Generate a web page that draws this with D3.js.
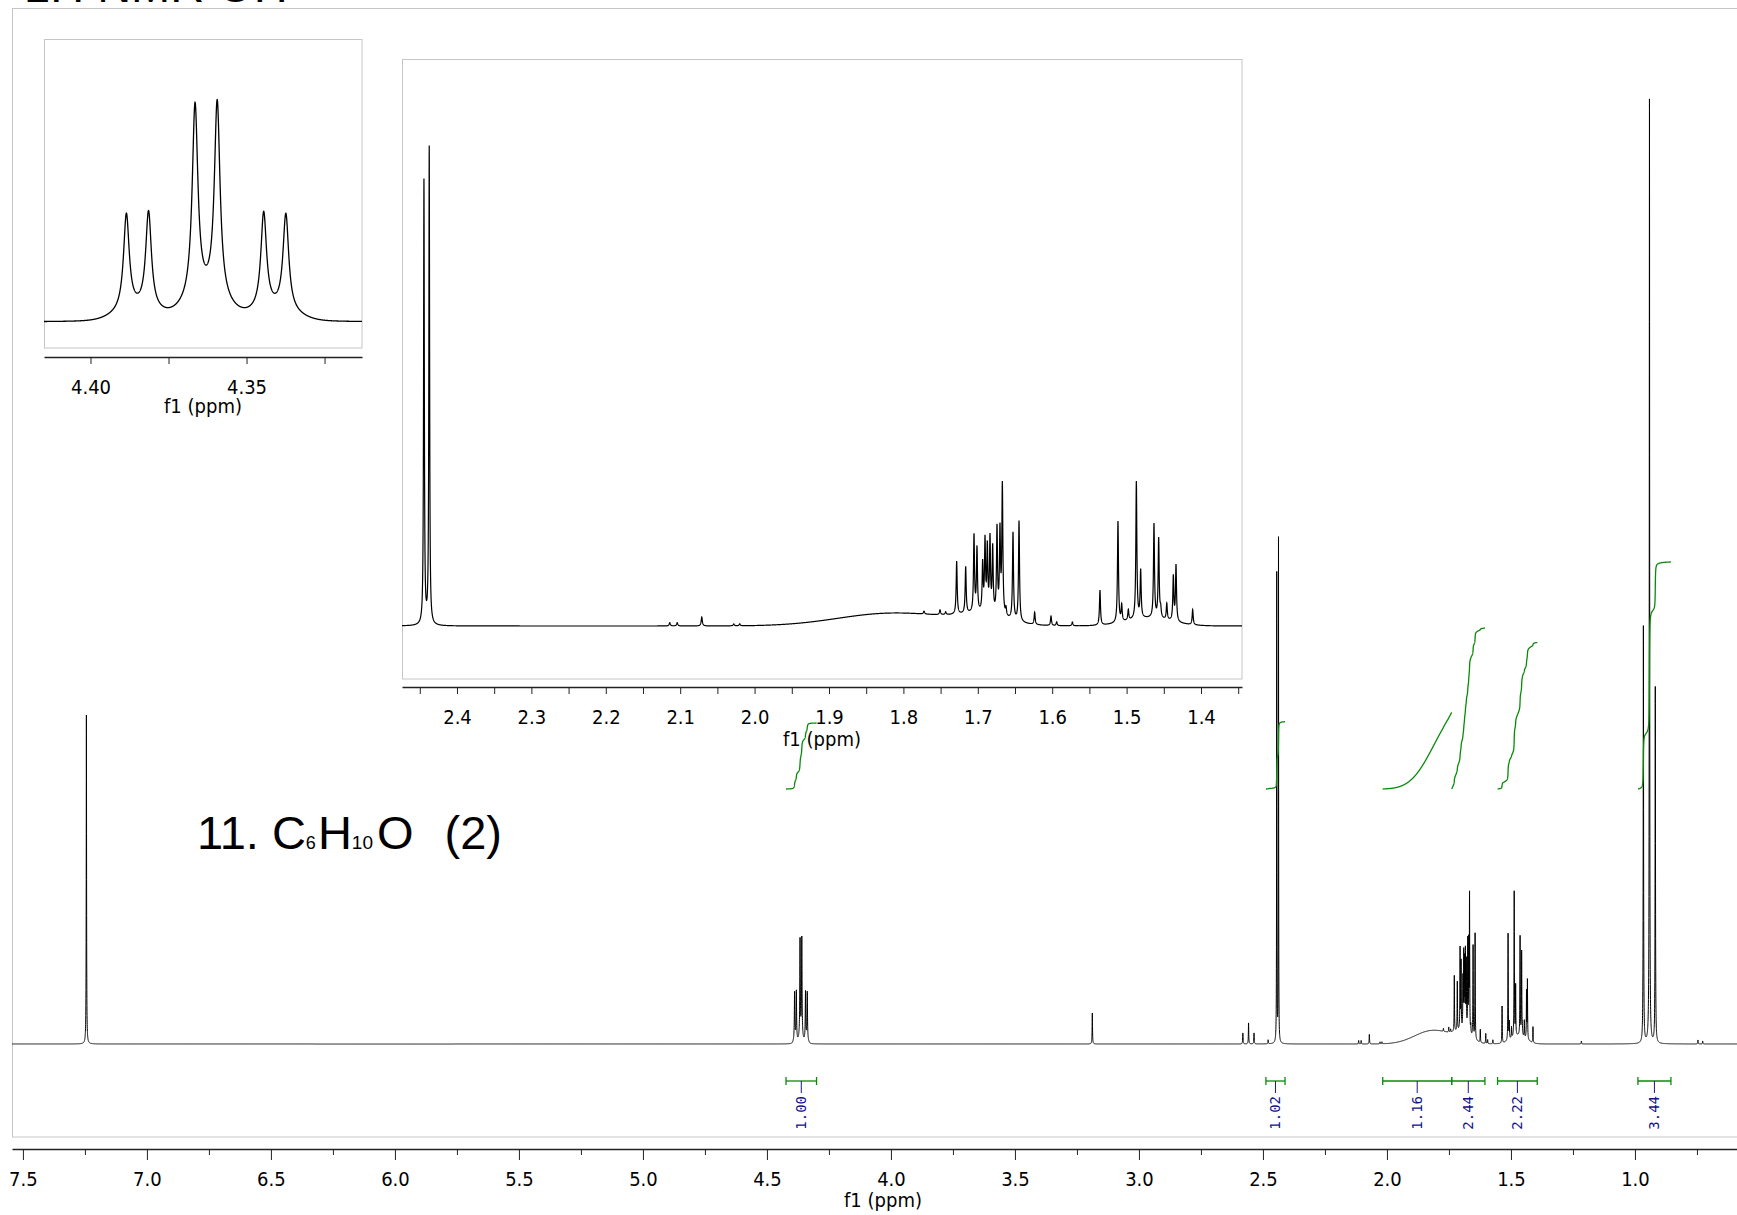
<!DOCTYPE html>
<html>
<head>
<meta charset="utf-8">
<title>1H NMR – C6H10O</title>
<script src="https://cdn.jsdelivr.net/npm/d3@7"></script>
<style>
  html, body { margin: 0; padding: 0; background: #fff; }
  svg { display: block; }
  .tick-label { font-family: "DejaVu Sans Condensed", "DejaVu Sans", sans-serif; font-stretch: condensed; font-size: 20px; fill: #000; }
</style>
</head>
<body>
<svg id="chart" width="1737" height="1215"></svg>
<script>
// ---------------- peak tables: [shift (ppm), height] ----------------
const solventLines = [[7.244, 329]];
const methineLines = [[4.3885, 46.8], [4.3814, 47.6], [4.3665, 94.7], [4.3594, 96.0], [4.3445, 47.2], [4.3374, 46.8]];
const alkyneLines  = [[2.4444, 469], [2.4373, 504]];
const ch2aLines = [
  [1.7284, 56], [1.7163, 49], [1.7051, 81], [1.7011, 67], [1.6935, 50], [1.6903, 74],
  [1.6872, 67], [1.6836, 77], [1.6800, 68], [1.6742, 90], [1.6702, 87], [1.6670, 137],
  [1.6621, 8], [1.6527, 92], [1.6446, 106], [1.6236, 13], [1.6016, 10], [1.5940, 4], [1.5729, 4]
];
const ch2bLines = [
  [1.5358, 37], [1.5116, 107], [1.5066, 17], [1.4977, 11], [1.4869, 145], [1.4811, 50],
  [1.4632, 99], [1.4569, 84], [1.4542, 9], [1.4460, 17], [1.4372, 47], [1.4336, 59], [1.4112, 16]
];
const methylLines = [[0.9660, 417], [0.9415, 944], [0.9180, 356]];
const minorLines = [
  [3.188, 31], [2.581, 11], [2.558, 21], [2.536, 11], [2.479, 4], [2.114, 3.5], [2.104, 3.5],
  [2.071, 9.5], [2.028, 2], [2.020, 2], [1.7723, 3], [1.7508, 5], [1.7432, 3], [1.216, 3],
  [0.746, 4], [0.727, 3]
];
// broad bands: [centre (ppm), sigma (ppm), height]  – OH hump and multiplet envelopes
const broadBands = [[1.82, 0.07, 13], [1.73, 0.05, 3], [1.69, 0.03, 8], [1.47, 0.03, 8]];

// integrals
const integralFrom   = [4.423, 2.488, 2.017, 1.739, 1.554, 0.988];
const integralTo     = [4.300, 2.411, 1.739, 1.605, 1.394, 0.855];
const integralValues = [1.00, 1.02, 1.16, 2.44, 2.22, 3.44];

// axis ticks
const mainTicks   = [7.5, 7.0, 6.5, 6.0, 5.5, 5.0, 4.5, 4.0, 3.5, 3.0, 2.5, 2.0, 1.5, 1.0];
const mainMinor   = [7.25, 6.75, 6.25, 5.75, 5.25, 4.75, 4.25, 3.75, 3.25, 2.75, 2.25, 1.75, 1.25, 0.75];
const inset1Ticks = [4.40, 4.35];
const inset1Minor = [4.375, 4.325];
const inset2Ticks = [2.4, 2.3, 2.2, 2.1, 2.0, 1.9, 1.8, 1.7, 1.6, 1.5, 1.4];
const inset2Minor = [2.45, 2.35, 2.25, 2.15, 2.05, 1.95, 1.85, 1.75, 1.65, 1.55, 1.45, 1.35];

// ---------------- line shape model ----------------
const lineTables = [
  { lines: solventLines, hw: 0.0008 },
  { lines: methineLines, hw: 0.0011, foot: [0.07, 0.005] },
  { lines: alkyneLines,  hw: 0.0006 },
  { lines: ch2aLines,    hw: 0.0008 },
  { lines: ch2bLines,    hw: 0.0008 },
  { lines: methylLines,  hw: 0.0009 },
  { lines: minorLines,   hw: 0.0009 }
];
const allCentres = lineTables.flatMap(t => t.lines.map(l => l[0]));

function spectrum(p) {
  let s = 0;
  for (const t of lineTables) {
    for (const [c, h] of t.lines) {
      const d = (p - c) / t.hw;
      s += h / (1 + d * d);
      if (t.foot) { const e = (p - c) / t.foot[1]; s += h * t.foot[0] * Math.exp(-0.5 * e * e); }
    }
  }
  for (const [c, sg, h] of broadBands) { const e = (p - c) / sg; s += h * Math.exp(-0.5 * e * e); }
  return s;
}

function sample(hi, lo, step) {
  const n = Math.ceil((hi - lo) / step);
  const ps = d3.range(n + 1).map(i => hi - i * step);
  allCentres.forEach(c => { if (c < hi && c > lo) ps.push(c); });
  ps.sort((a, b) => b - a);
  return ps.map(p => ({ p, v: spectrum(p) }));
}

// ---------------- scales ----------------
const xMain = d3.scaleLinear().domain([7.544, 0.520]).range([12, 1754]);
const yMain = d3.scaleLinear().domain([0, 1000]).range([1044, 44]);
const xIn1  = d3.scaleLinear().domain([4.4149, 4.3130]).range([44, 362]);
const yIn1  = d3.scaleLinear().domain([0, 100]).range([322, 116]);
const xIn2  = d3.scaleLinear().domain([2.4739, 1.3449]).range([402, 1242]);
const yIn2  = d3.scaleLinear().domain([0, 100]).range([626, 531.3]);
const yInt  = d3.scaleLinear().domain([0, 1]).range([789, 723]);

const svg = d3.select("#chart");
const defs = svg.append("defs");
function clip(id, x, y, w, h) {
  defs.append("clipPath").attr("id", id).append("rect").attr("x", x).attr("y", y).attr("width", w).attr("height", h);
}
clip("clip-main", 12, 8, 1742, 1129);
clip("clip-in1", 44, 39, 318, 309);
clip("clip-in2", 402, 59, 840, 620);

// page heading (mostly above the visible area)
svg.append("text")
  .attr("x", 24).attr("y", 2)
  .attr("font-family", "'Liberation Sans', Arial, sans-serif")
  .attr("font-size", 47)
  .text("1H NMR OH");

// main frame
svg.append("rect").attr("x", 12.5).attr("y", 8.5).attr("width", 1742).attr("height", 1128.5)
  .attr("fill", "none").attr("stroke", "#c6c6c6").attr("stroke-width", 1);

function drawAxis(x, y, major, minor, fmt, majorLen, minorLen, labelX, labelY) {
  const gMinor = svg.append("g").attr("transform", `translate(0,${y})`)
    .call(d3.axisBottom(x).tickValues(minor).tickSize(minorLen).tickSizeOuter(0).tickFormat(""));
  gMinor.select(".domain").remove();
  const g = svg.append("g").attr("transform", `translate(0,${y})`)
    .call(d3.axisBottom(x).tickValues(major).tickSize(majorLen).tickSizeOuter(0).tickFormat(d3.format(fmt)));
  g.select(".domain").attr("stroke", "#222").attr("stroke-width", 1.6);
  [g, gMinor].forEach(gg => gg.selectAll(".tick line").attr("stroke", "#222").attr("stroke-width", 1));
  g.selectAll(".tick text").attr("class", "tick-label").attr("y", 37).attr("dy", null)
    .attr("font-family", null).attr("font-size", null).attr("fill", null);
  g.attr("font-family", null).attr("font-size", null);
  svg.append("text").attr("class", "tick-label").attr("x", labelX).attr("y", labelY)
    .attr("text-anchor", "middle").text("f1 (ppm)");
}

// ---------------- main spectrum ----------------
const mainData = sample(7.544, 0.520, 0.0002);
svg.append("path")
  .datum(mainData)
  .attr("clip-path", "url(#clip-main)")
  .attr("fill", "none").attr("stroke", "#000").attr("stroke-width", 1)
  .attr("d", d3.line().x(d => xMain(d.p)).y(d => yMain(d.v)));

drawAxis(xMain, 1149, mainTicks, mainMinor, ".1f", 11, 6, 883, 1207);

// ---------------- integrals ----------------
const intG = svg.append("g").attr("clip-path", "url(#clip-main)");
integralValues.forEach((val, i) => {
  const hi = integralFrom[i], lo = integralTo[i];
  const pts = sample(hi, lo, 0.0002);
  let acc = 0;
  const cum = pts.map((d, k) => {
    if (k > 0) acc += 0.5 * (d.v + pts[k - 1].v) * (pts[k - 1].p - d.p);
    return { p: d.p, c: acc };
  });
  const total = acc;
  intG.append("path").datum(cum)
    .attr("fill", "none").attr("stroke", "#0a8a0a").attr("stroke-width", 1.3)
    .attr("d", d3.line().x(d => xMain(d.p)).y(d => yInt(val * d.c / total)));

  const x1 = xMain(hi), x2 = xMain(lo), xm = xMain((hi + lo) / 2);
  const yb = 1081;
  intG.append("line").attr("x1", x1).attr("x2", x2).attr("y1", yb).attr("y2", yb)
    .attr("stroke", "#0a8a0a").attr("stroke-width", 1.3);
  [x1, x2].forEach(xx => intG.append("line").attr("x1", xx).attr("x2", xx).attr("y1", yb - 4).attr("y2", yb + 4)
    .attr("stroke", "#0a8a0a").attr("stroke-width", 1.3));
  intG.append("line").attr("x1", xm).attr("x2", xm).attr("y1", yb).attr("y2", yb + 12)
    .attr("stroke", "#1a1a8c").attr("stroke-width", 1);
  intG.append("text")
    .attr("transform", `translate(${xm},${yb + 15}) rotate(-90)`)
    .attr("text-anchor", "end").attr("dominant-baseline", "central")
    .attr("font-family", "'DejaVu Sans Mono', 'Liberation Mono', monospace")
    .attr("font-size", 14).attr("fill", "#101088")
    .text(d3.format(".2f")(val));
});

// ---------------- inset 1: 4.36 ppm multiplet ----------------
svg.append("rect").attr("x", 44.5).attr("y", 39.5).attr("width", 317.5).attr("height", 308.5)
  .attr("fill", "#fff").attr("stroke", "#c6c6c6").attr("stroke-width", 1);
const in1Data = sample(4.4149, 4.3130, 0.00004);
svg.append("path").datum(in1Data)
  .attr("clip-path", "url(#clip-in1)")
  .attr("fill", "none").attr("stroke", "#000").attr("stroke-width", 1.3)
  .attr("d", d3.line().x(d => xIn1(d.p)).y(d => yIn1(d.v)));
drawAxis(xIn1, 357, inset1Ticks, inset1Minor, ".2f", 7, 7, 203, 413);

// ---------------- inset 2: 2.5–1.35 ppm region ----------------
svg.append("rect").attr("x", 402.5).attr("y", 59.5).attr("width", 839.5).attr("height", 619.5)
  .attr("fill", "#fff").attr("stroke", "#c6c6c6").attr("stroke-width", 1);
const in2Data = sample(2.4739, 1.3449, 0.0001);
svg.append("path").datum(in2Data)
  .attr("clip-path", "url(#clip-in2)")
  .attr("fill", "none").attr("stroke", "#000").attr("stroke-width", 1.2)
  .attr("d", d3.line().x(d => xIn2(d.p)).y(d => yIn2(d.v)));
drawAxis(xIn2, 687, inset2Ticks, inset2Minor, ".1f", 7, 7, 822, 746);

// ---------------- compound label ----------------
const label = svg.append("text")
  .attr("x", 197).attr("y", 849)
  .attr("font-family", "'Liberation Sans', Arial, sans-serif")
  .attr("font-size", 47).attr("fill", "#000");
label.append("tspan").text("11. C");
label.append("tspan").attr("font-size", 18).text("6");
label.append("tspan").attr("dx", 2).text("H");
label.append("tspan").attr("font-size", 19).text("10");
label.append("tspan").attr("dx", 4).text("O");
label.append("tspan").attr("dx", 31).text("(2)");
</script>
</body>
</html>
